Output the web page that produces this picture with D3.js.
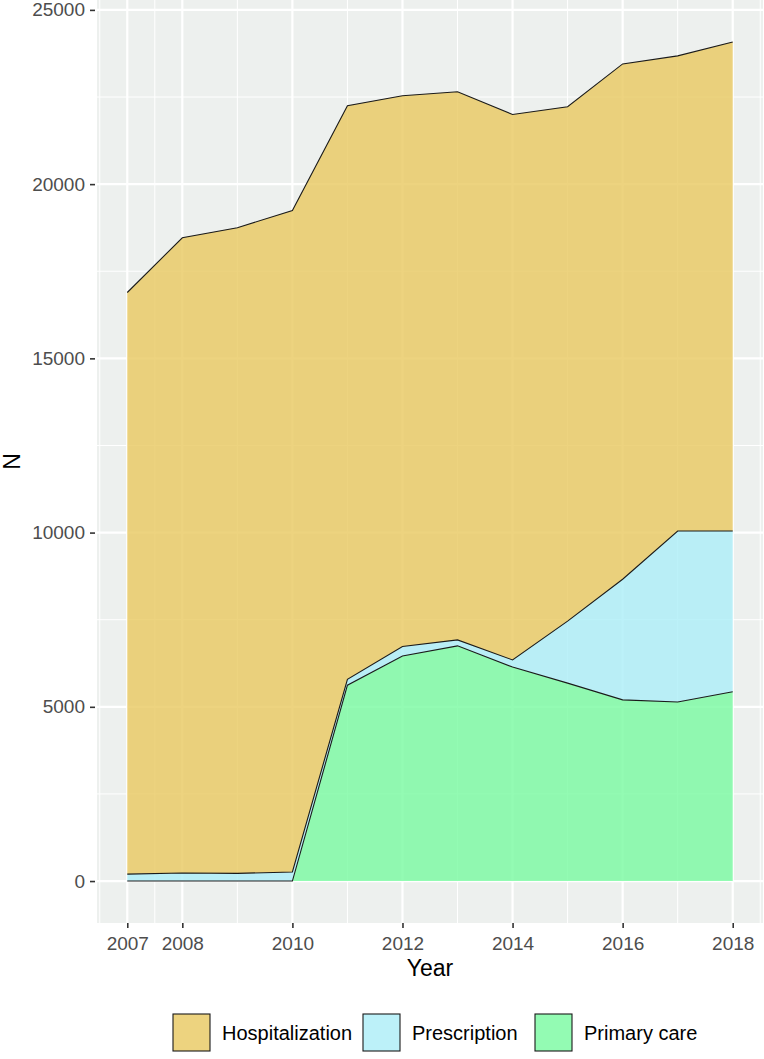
<!DOCTYPE html>
<html>
<head>
<meta charset="utf-8">
<script src="https://cdn.jsdelivr.net/npm/d3@7"></script>
<style>
	body { margin: 0; background: #ffffff; }
	text { font-family: "Liberation Sans", Arial, sans-serif; }
</style>
</head>
<body onload="onLoad()">
<div></div>
<script>
var years = [2007, 2008, 2009, 2010, 2011, 2012, 2013, 2014, 2015, 2016, 2017, 2018],
	primaryCare = [0, 0, 0, 0, 5620, 6460, 6750, 6140, 5680, 5200, 5140, 5430],
	prescription = [200, 230, 220, 260, 170, 270, 170, 205, 1780, 3460, 4905, 4615],
	hospitalization = [16690, 18230, 18530, 18980, 16460, 15805, 15730, 15655, 14760, 14790, 13635, 14035];

var seriesNames = ["Primary care", "Prescription", "Hospitalization"],
	legendNames = ["Hospitalization", "Prescription", "Primary care"],
	xBreaks = [2007, 2008, 2010, 2012, 2014, 2016, 2018],
	xMinorBreaks = [2006.5, 2007.5, 2009, 2011, 2013, 2015, 2017, 2018.5],
	yBreaks = [0, 5000, 10000, 15000, 20000, 25000],
	yMinorBreaks = [2500, 7500, 12500, 17500, 22500];

var colors = {
	"Hospitalization": "rgb(233,200,95)",
	"Prescription": "rgb(171,238,247)",
	"Primary care": "rgb(120,250,160)"
};

var width = 764,
	height = 1059,
	panel = {left: 97, right: 763, top: 0, bottom: 923};

var svgContainer;

function onLoad() {
	svgContainer = d3.select("div")
	.append("svg")
	.attr("width", width)
	.attr("height", height);

	var rows = years.map(function(year, i) {
		return {
			year: year,
			"Primary care": primaryCare[i],
			"Prescription": prescription[i],
			"Hospitalization": hospitalization[i]
		};
	});

	var stacked = d3.stack().keys(seriesNames)(rows);
	var maxTotal = d3.max(stacked[stacked.length - 1], function(d) { return d[1]; });

	var xRange = years[years.length - 1] - years[0];
	var x = d3.scaleLinear()
		.domain([years[0] - xRange * 0.05, years[years.length - 1] + xRange * 0.05])
		.range([panel.left, panel.right]);

	var y = d3.scaleLinear()
		.domain([-maxTotal * 0.05, maxTotal * 1.05])
		.range([panel.bottom, panel.top]);

	// panel background and grid
	svgContainer.append("rect")
	.attr("x", panel.left)
	.attr("y", panel.top)
	.attr("width", panel.right - panel.left)
	.attr("height", panel.bottom - panel.top)
	.style("fill", "#edf0ee");

	var grid = svgContainer.append("g");
	xMinorBreaks.forEach(function(b) {
		grid.append("line")
		.attr("x1", x(b)).attr("x2", x(b))
		.attr("y1", panel.top).attr("y2", panel.bottom)
		.style("stroke", "#ffffff").style("stroke-width", 1);
	});
	yMinorBreaks.forEach(function(b) {
		grid.append("line")
		.attr("x1", panel.left).attr("x2", panel.right)
		.attr("y1", y(b)).attr("y2", y(b))
		.style("stroke", "#ffffff").style("stroke-width", 1);
	});
	xBreaks.forEach(function(b) {
		grid.append("line")
		.attr("x1", x(b)).attr("x2", x(b))
		.attr("y1", panel.top).attr("y2", panel.bottom)
		.style("stroke", "#ffffff").style("stroke-width", 2.2);
	});
	yBreaks.forEach(function(b) {
		grid.append("line")
		.attr("x1", panel.left).attr("x2", panel.right)
		.attr("y1", y(b)).attr("y2", y(b))
		.style("stroke", "#ffffff").style("stroke-width", 2.2);
	});

	// stacked areas, outline only on the upper edge
	var area = d3.area()
		.x(function(d) { return x(d.data.year); })
		.y0(function(d) { return y(d[0]); })
		.y1(function(d) { return y(d[1]); });

	var topLine = d3.line()
		.x(function(d) { return x(d.data.year); })
		.y(function(d) { return y(d[1]); });

	stacked.forEach(function(layer) {
		svgContainer.append("path")
		.attr("d", area(layer))
		.style("fill", colors[layer.key])
		.style("fill-opacity", 0.8);
	});
	stacked.forEach(function(layer) {
		svgContainer.append("path")
		.attr("d", topLine(layer))
		.style("fill", "none")
		.style("stroke", "#1a1a1a")
		.style("stroke-width", 1.1);
	});

	// axes
	var xAxis = d3.axisBottom(x)
		.tickValues(xBreaks)
		.tickFormat(d3.format("d"))
		.tickSize(5)
		.tickPadding(5);

	var yAxis = d3.axisLeft(y)
		.tickValues(yBreaks)
		.tickFormat(d3.format("d"))
		.tickSize(5)
		.tickPadding(5);

	var gx = svgContainer.append("g")
	.attr("transform", "translate(0," + panel.bottom + ")")
	.call(xAxis);

	var gy = svgContainer.append("g")
	.attr("transform", "translate(" + (panel.left - 2) + ",0)")
	.call(yAxis);

	[gx, gy].forEach(function(g) {
		g.select(".domain").remove();
		g.selectAll(".tick line").style("stroke", "#333333").style("stroke-width", 1.6);
		g.selectAll(".tick text")
		.style("font-size", "19px")
		.style("fill", "#4d4d4d");
	});
	gx.selectAll(".tick text").attr("dy", "0.9em");

	svgContainer.append("text")
	.attr("x", (panel.left + panel.right) / 2)
	.attr("y", 976)
	.attr("text-anchor", "middle")
	.style("font-size", "23px")
	.style("fill", "#000000")
	.text("Year");

	svgContainer.append("text")
	.attr("transform", "translate(20," + ((panel.top + panel.bottom) / 2) + ") rotate(-90)")
	.attr("text-anchor", "middle")
	.style("font-size", "23px")
	.style("fill", "#000000")
	.text("N");

	drawLegend();
}

function drawLegend() {
	var legendX = [173, 363, 535],
		boxSize = 37,
		boxTop = 1014;

	legendNames.forEach(function(name, i) {
		svgContainer.append("rect")
		.attr("x", legendX[i])
		.attr("y", boxTop)
		.attr("width", boxSize)
		.attr("height", boxSize)
		.style("fill", colors[name])
		.style("fill-opacity", 0.8)
		.style("stroke", "#1a1a1a")
		.style("stroke-width", 1.1);

		svgContainer.append("text")
		.attr("x", legendX[i] + boxSize + 12)
		.attr("y", boxTop + boxSize / 2)
		.attr("dy", "0.35em")
		.style("font-size", "20px")
		.style("fill", "#000000")
		.text(name);
	});
}
</script>
</body>
</html>
